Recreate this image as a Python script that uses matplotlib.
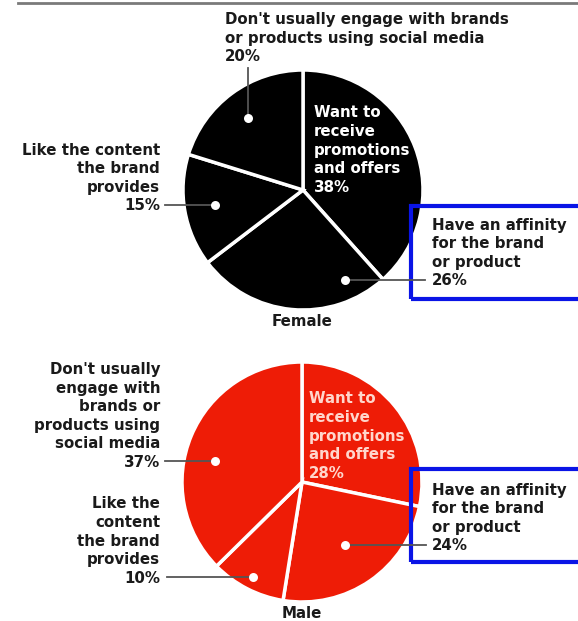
import matplotlib.pyplot as plt
from matplotlib.patches import Rectangle

W, H = 578, 621

categories = ["Want to receive promotions and offers",
              "Have an affinity for the brand or product",
              "Like the content the brand provides",
              "Don't usually engage with brands or products using social media"]
female = [38, 26, 15, 20]
male = [28, 24, 10, 37]

RED = "#ee1c06"
BLUE = "#0a14e6"
INK = "#1a1a1a"
LEAD = "#555555"

fig = plt.figure(figsize=(W / 100, H / 100), dpi=100)
ax = fig.add_axes([0, 0, 1, 1])


def y(py):
    # work in pixel rows measured from the top
    return H - py


def text(x, py, s, ha="left", color=INK, size=10.8):
    ax.text(x, y(py), s, ha=ha, va="center", color=color, fontsize=size,
            fontweight="bold", family="DejaVu Sans", linespacing=1.3,
            zorder=5)


def leader(x0, x1, py0, py1, dot):
    ax.plot([x0, x1], [y(py0), y(py1)], color=LEAD, lw=1.3, zorder=4)
    ax.scatter([dot[0]], [y(dot[1])], s=42, color="white", zorder=6,
               linewidths=0)


def pie(values, color, cx, cy):
    ax.pie(values, colors=[color] * len(values), startangle=90,
           counterclock=False, center=(cx, y(cy)), radius=120, frame=True,
           wedgeprops=dict(edgecolor="white", linewidth=2.5))


# female
pie(female, "black", 303, 190)
text(225, 38, f"Don't usually engage with brands\nor products using social media\n{female[3]}%")
leader(248, 248, 68, 118, (248, 118))
text(160, 178, f"Like the content\nthe brand\nprovides\n{female[2]}%", ha="right")
leader(165, 215, 205, 205, (215, 205))
text(314, 150, f"Want to\nreceive\npromotions\nand offers\n{female[0]}%", color="white")
text(432, 253, f"Have an affinity\nfor the brand\nor product\n{female[1]}%")
leader(345, 425, 280, 280, (345, 280))
text(302, 321, "Female", ha="center")

# male
pie(male, RED, 302, 482)
text(160, 416, f"Don't usually\nengage with\nbrands or\nproducts using\nsocial media\n{male[3]}%", ha="right")
leader(165, 215, 461, 461, (215, 461))
text(160, 541, f"Like the\ncontent\nthe brand\nprovides\n{male[2]}%", ha="right")
leader(167, 253, 577, 577, (253, 577))
text(309, 436, f"Want to\nreceive\npromotions\nand offers\n{male[0]}%", color="#ffd6cc")
text(432, 518, f"Have an affinity\nfor the brand\nor product\n{male[1]}%")
leader(345, 426, 545, 545, (345, 545))
text(302, 614, "Male", ha="center")

# highlight boxes
for top in (206, 469):
    ax.add_patch(Rectangle((411, y(top + 93)), 200, 93, fill=False,
                           edgecolor=BLUE, lw=3, zorder=3))

ax.plot([18, W], [y(3), y(3)], color="#7a7a7a", lw=2)

ax.set_xlim(0, W)
ax.set_ylim(0, H)
ax.set_aspect("auto")
ax.axis("off")

fig.savefig("out.png", dpi=100, facecolor="white")
